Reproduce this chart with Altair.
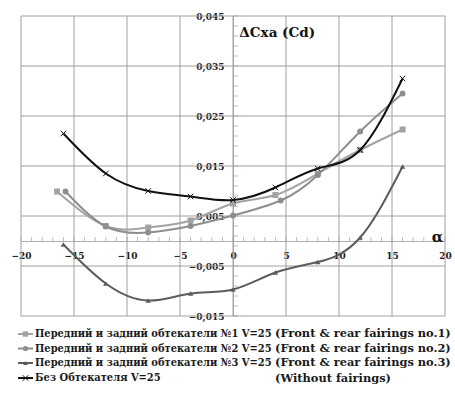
import altair as alt
import pandas as pd

# ---- data ----
alpha1 = [-16.6, -12, -8, -4, 0, 4, 8, 12, 16]
cd1 = [0.0099, 0.0030, 0.0027, 0.0041, 0.0075, 0.0092, 0.0135, 0.0182, 0.0223]
alpha2 = [-15.8, -12, -8, -4, 0, 4.5, 8, 12, 16]
cd2 = [0.0099, 0.0029, 0.0017, 0.0030, 0.0051, 0.0081, 0.0132, 0.0219, 0.0295]
alpha3 = [-16, -12, -8, -4, 0, 4, 8, 12, 16]
cd3 = [-0.0007, -0.0085, -0.0119, -0.0105, -0.0097, -0.0063, -0.0042, 0.0007, 0.0149]
alpha4 = [-16, -12, -8, -4, 0, 4, 8, 12, 16]
cd4 = [0.0215, 0.0135, 0.0100, 0.0089, 0.0082, 0.0107, 0.0145, 0.0182, 0.0325]

labels_ru = [
    "Передний и задний обтекатели №1 V=25",
    "Передний и задний обтекатели №2 V=25",
    "Передний и задний обтекатели №3 V=25",
    "Без Обтекателя V=25",
]
labels_en = [
    "(Front & rear fairings no.1)",
    "(Front & rear fairings no.2)",
    "(Front & rear fairings no.3)",
    "(Without fairings)",
]
colors = ["#a3a3a3", "#8e8e8e", "#5c5c5c", "#111111"]
shapes = ["square", "circle", "triangle-up", "M-1,-1L1,1M-1,1L1,-1"]
sizes = [36, 34, 30, 30]

x_grid = [-20, -15, -10, -5, 0, 5, 10, 15, 20]
y_grid = [-0.015, -0.005, 0.005, 0.015, 0.025, 0.035, 0.045]
x_minor = [v for v in range(-20, 21)]
y_minor = [round(-0.015 + 0.002 * k, 4) for k in range(31)]

FONT = "DejaVu Serif"
FONT_C = "DejaVu Serif Condensed"
W, H = 424, 300

xs = alt.Scale(domain=[-20, 20], nice=False, zero=False)
ys = alt.Scale(domain=[-0.015, 0.045], nice=False, zero=False)

x_axis = alt.Axis(values=x_grid, grid=False, ticks=False, domain=True,
                  domainColor="#b0b0b0", offset=-75, title=None,
                  labelFont=FONT, labelFontWeight="bold", labelFontSize=9,
                  labelColor="#222222", labelPadding=10, labelFlush=False,
                  labelOverlap=False, format="d")
y_axis = alt.Axis(values=y_grid, grid=False, ticks=False, domain=True,
                  domainColor="#b0b0b0", offset=-212, title=None,
                  labelFont=FONT, labelFontWeight="bold", labelFontSize=9,
                  labelColor="#222222", labelPadding=9, labelFlush=False,
                  labelOverlap=False,
                  labelExpr="replace(format(datum.value, '.3f'), '.', ',')")

X = alt.X("a:Q", scale=xs, axis=x_axis)
Y = alt.Y("v:Q", scale=ys, axis=y_axis)

gx = alt.Chart(pd.DataFrame({"a": x_grid})).mark_rule(color="#a0a0a0", strokeWidth=1).encode(x=X)
gy = alt.Chart(pd.DataFrame({"v": y_grid})).mark_rule(color="#a0a0a0", strokeWidth=1).encode(y=Y)

tx = alt.Chart(pd.DataFrame({"a": x_minor})).mark_tick(
    orient="vertical", size=4, thickness=1, color="#a0a0a0", yOffset=-2
).encode(x=X, y=alt.datum(0))
ty = alt.Chart(pd.DataFrame({"v": y_minor})).mark_tick(
    orient="horizontal", size=5, thickness=1, color="#a0a0a0", xOffset=2.5
).encode(y=Y, x=alt.datum(0))

layers = [gx, gy, tx, ty]

series = [(alpha1, cd1), (alpha2, cd2), (alpha3, cd3), (alpha4, cd4)]
for i, (aa, vv) in enumerate(series):
    df = pd.DataFrame({"a": aa, "v": vv})
    base = alt.Chart(df).encode(x=X, y=Y)
    line = base.mark_line(color=colors[i], strokeWidth=2, interpolate="natural")
    if i == 3:
        pts = base.mark_point(shape=shapes[i], size=sizes[i], filled=False,
                              stroke=colors[i], strokeWidth=1, opacity=1)
    else:
        pts = base.mark_point(shape=shapes[i], size=sizes[i], filled=True,
                              color=colors[i], opacity=1)
    layers += [line, pts]

title = alt.Chart(pd.DataFrame({"t": ["ΔCxa (Cd)"]})).mark_text(
    align="left", baseline="middle", font=FONT, fontWeight="bold", fontSize=13.5, color="#111111"
).encode(x=alt.datum(0.6), y=alt.datum(0.0416), text="t:N")
alpha_lbl = alt.Chart(pd.DataFrame({"t": ["α"]})).mark_text(
    align="center", baseline="middle", font=FONT, fontWeight="bold", fontSize=15, color="#111111"
).encode(x=alt.datum(19.3), y=alt.datum(0.0009), text="t:N")
layers += [title, alpha_lbl]

row_y = [318, 332.5, 347, 362]
for i in range(4):
    yy = row_y[i]
    seg = alt.Chart(pd.DataFrame({"k": [0]})).mark_rule(color=colors[i], strokeWidth=2).encode(
        x=alt.value(-3), x2=alt.value(12), y=alt.value(yy))
    if i == 3:
        sym = alt.Chart(pd.DataFrame({"k": [0]})).mark_point(
            shape=shapes[i], size=sizes[i], filled=False, stroke=colors[i], strokeWidth=1, opacity=1
        ).encode(x=alt.value(4.5), y=alt.value(yy))
    else:
        sym = alt.Chart(pd.DataFrame({"k": [0]})).mark_point(
            shape=shapes[i], size=sizes[i] * 0.8, filled=True, color=colors[i], opacity=1
        ).encode(x=alt.value(4.5), y=alt.value(yy))
    ru = alt.Chart(pd.DataFrame({"t": [labels_ru[i]]})).mark_text(
        align="left", baseline="middle", font=FONT_C, fontWeight="bold", fontSize=11, color="#1a1a1a"
    ).encode(x=alt.value(14), y=alt.value(yy), text="t:N")
    en = alt.Chart(pd.DataFrame({"t": [labels_en[i]]})).mark_text(
        align="left", baseline="middle", font=FONT, fontWeight="bold", fontSize=11.4, color="#1a1a1a"
    ).encode(x=alt.value(254), y=alt.value(yy + (1 if i == 3 else 0)), text="t:N")
    layers += [seg, sym, ru, en]

chart = alt.layer(*layers).properties(
    width=W, height=H,
    autosize=alt.AutoSizeParams(type="none"),
    padding={"left": 21, "top": 16, "right": 10, "bottom": 78},
    background="white",
).configure_view(stroke=None)

chart.save("out.html", embed_options={"renderer": "svg", "actions": False})
